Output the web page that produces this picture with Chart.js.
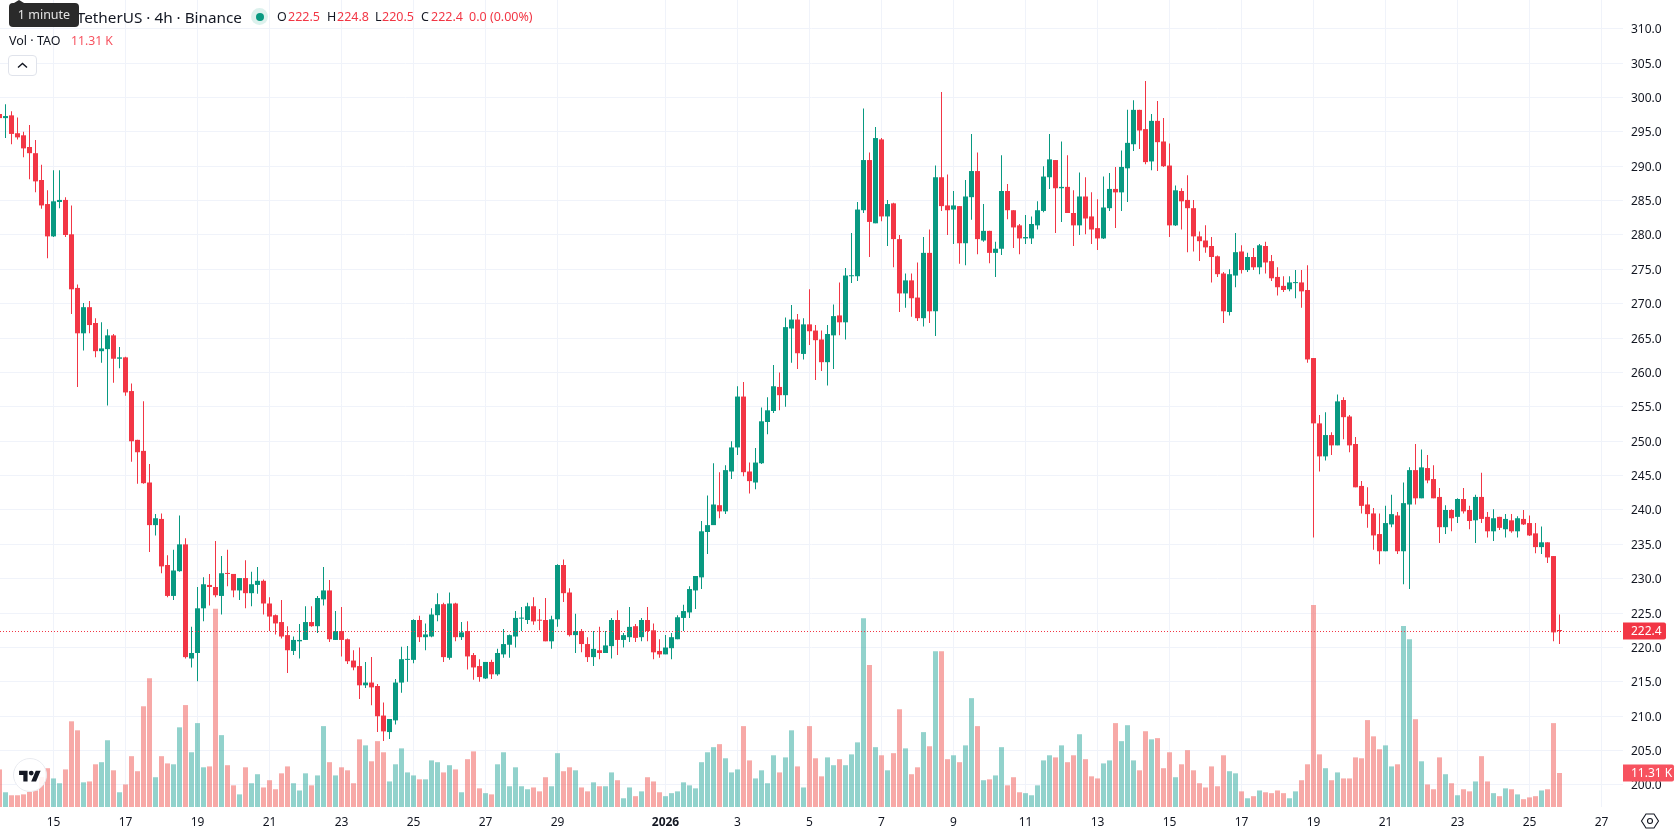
<!DOCTYPE html>
<html lang="en">
<head>
<meta charset="UTF-8">
<title>TAO / TetherUS 4h</title>
<script src="https://cdn.jsdelivr.net/npm/chart.js"></script>
<style>
  * { box-sizing: border-box; }
  html, body { margin: 0; padding: 0; width: 1678px; height: 835px; overflow: hidden; background: #fff; }
  body { font-family: 'Noto Sans', sans-serif; color: #131722; position: relative; }
  canvas { position: absolute; left: 0; top: 0; }
  .t { position: absolute; white-space: nowrap; line-height: 18px; }
  .ohlc { font-size: 12.5px; top: 8px; }
  .red { color: #f23645; }
  .title { left: 0; width: 242px; top: 6px; font-size: 15.3px; line-height: 22px; text-align: right; }
  .dot { position: absolute; left: 251px; top: 8px; width: 17px; height: 17px; border-radius: 50%; background: #dcf1ed; }
  .dot::after { content: ''; position: absolute; left: 4.5px; top: 4.5px; width: 8px; height: 8px; border-radius: 50%; background: #089981; }
  .hint { position: absolute; left: 9px; top: 3px; width: 70px; height: 24px; background: #2a2a2a; border-radius: 4px; color: #e4e4e4; font-size: 12.5px; line-height: 24px; text-align: center; }
  .hint::before { content: ''; position: absolute; left: 5px; top: -3px; border-left: 5px solid transparent; border-right: 5px solid transparent; border-bottom: 3px solid #2a2a2a; }
  .fold { position: absolute; left: 8px; top: 55px; width: 29px; height: 21px; border: 1px solid #e0e3eb; border-radius: 4px; background: #fff; }
  .logo { position: absolute; left: 13px; top: 758px; width: 34px; height: 34px; border-radius: 50%; background: rgba(255,255,255,.9); border: 1px solid #e9ebf0; }
  .gear { position: absolute; left: 1640px; top: 811px; }
</style>
</head>
<body>
<canvas id="chart" width="1678" height="835"></canvas>

<div class="t title">TetherUS · 4h · Binance</div>
<div class="hint">1 minute</div>
<div class="dot"></div>
<div class="t ohlc" style="left:277px">O</div><div class="t ohlc red" style="left:288px">222.5</div>
<div class="t ohlc" style="left:327px">H</div><div class="t ohlc red" style="left:337px">224.8</div>
<div class="t ohlc" style="left:375px">L</div><div class="t ohlc red" style="left:382px">220.5</div>
<div class="t ohlc" style="left:421px">C</div><div class="t ohlc red" style="left:431px">222.4</div>
<div class="t ohlc red" style="left:469px">0.0 (0.00%)</div>
<div class="t" style="left:9px;top:32px;font-size:12.5px">Vol · TAO</div>
<div class="t" style="left:71px;top:32px;font-size:12.2px;color:#f7525f">11.31 K</div>
<div class="fold">
  <svg width="27" height="19" viewBox="0 0 27 19"><path d="M9 11.5l4.5-4 4.5 4" fill="none" stroke="#131722" stroke-width="1.4"/></svg>
</div>
<div class="logo">
  <svg style="position:absolute;left:5px;top:8px" width="22" height="17" viewBox="0 0 36 28" fill="#131722"><path d="M14 6H0v7h7v11h7V6zM28 24h-8l7.5-18h8L28 24z"/><circle cx="20" cy="10" r="4"/></svg>
</div>
<svg class="gear" width="20" height="20" viewBox="0 0 20 20" fill="none" stroke="#131722" stroke-width="1.1">
  <path d="M6 3h8l4.5 7-4.5 7H6l-4.5-7z"/><circle cx="10" cy="10" r="2.5"/>
</svg>

<script>
// OHLC of each 4h candle, oldest first; the first candle sits one slot before bar 0
const FIRST_BAR = -1;

const opens = [
  297.6,297.0,297.4,294.8,294.5,292.8,291.9,288.0,284.5,279.8,
  284.8,285.1,280.1,272.3,265.7,269.5,267.2,263.1,263.4,265.4,
  262.0,262.2,257.3,250.2,248.6,244.0,237.8,238.7,232.0,227.5,
  231.1,235.0,218.4,219.2,225.7,229.1,228.8,227.5,230.8,230.7,
  228.3,230.1,227.9,229.1,229.7,226.4,224.7,223.7,221.8,219.5,
  220.9,221.1,223.7,223.1,227.0,228.3,221.1,222.4,221.2,218.1,
  217.3,214.5,214.9,214.4,210.1,207.7,209.4,214.9,218.2,218.2,
  224.0,221.5,221.6,224.7,226.3,218.5,226.4,221.5,222.4,218.9,
  217.3,215.5,217.9,216.1,219.0,220.4,221.6,224.2,224.0,226.0,
  224.0,224.0,220.9,224.1,232.0,228.0,221.8,222.4,220.5,218.6,
  219.6,219.2,220.2,224.0,221.1,221.5,223.1,221.5,224.0,222.5,
  219.5,219.0,219.9,221.2,224.3,225.1,228.3,230.2,236.8,237.8,
  240.7,239.8,245.6,249.1,256.5,245.6,244.0,246.8,252.8,254.4,
  257.9,256.7,266.4,267.7,262.7,267.0,266.1,264.8,261.5,265.4,
  268.3,267.3,274.0,274.0,283.6,290.9,281.7,293.9,282.7,284.6,
  279.4,271.5,273.4,270.9,267.9,277.4,268.9,288.4,284.3,283.7,
  284.2,278.8,285.5,289.3,279.2,280.6,277.4,278.0,286.4,283.6,
  281.4,279.5,279.5,281.4,283.5,288.4,290.9,286.8,287.0,283.2,
  281.4,285.6,282.7,281.0,279.5,283.9,286.7,286.2,289.7,293.2,
  298.2,295.4,290.7,296.6,293.6,290.1,281.4,286.4,285.1,283.9,
  279.8,279.2,278.4,276.9,274.4,268.8,274.1,277.6,274.9,276.8,
  275.3,278.4,276.2,273.9,272.6,272.1,273.0,273.1,272.0,262.1,
  252.6,247.8,250.9,249.4,256.0,253.6,249.6,243.5,240.8,239.5,
  236.5,234.0,237.9,239.2,234.0,240.8,245.8,241.7,246.1,244.5,
  241.9,237.5,240.0,239.0,241.6,240.0,238.5,241.9,239.0,236.9,
  239.0,237.2,238.5,236.9,238.7,238.1,236.6,234.6,235.3,233.3,
  222.5
];

const highs = [
  298.0,299.0,298.0,297.1,295.0,296.0,293.8,290.2,286.5,289.4,
  289.4,285.5,284.3,272.8,270.1,270.4,267.9,267.3,266.3,265.6,
  263.7,262.3,258.4,250.2,255.8,246.7,239.4,239.5,233.4,234.2,
  239.2,235.9,223.0,228.8,230.2,230.7,235.5,233.3,234.2,230.7,
  230.1,232.7,231.0,231.7,229.9,227.3,224.8,226.9,223.1,221.6,
  223.4,226.0,226.0,227.5,231.7,229.8,225.3,225.9,221.3,219.6,
  220.0,217.9,218.6,214.7,212.0,209.6,215.4,220.1,220.2,224.1,
  224.6,223.5,225.7,227.9,226.5,228.0,226.5,223.7,223.8,219.2,
  218.3,217.9,218.2,219.8,222.7,221.9,225.3,225.9,226.5,227.3,
  225.6,227.2,224.6,232.1,232.8,228.6,224.9,222.7,221.5,222.4,
  223.0,222.4,224.3,225.4,222.1,225.9,223.4,224.3,225.9,223.5,
  221.2,221.8,222.1,224.7,226.2,228.9,230.4,238.4,242.1,246.8,
  245.5,246.5,250.0,258.0,258.6,246.9,249.0,254.9,256.4,261.1,
  260.0,268.0,269.8,268.5,267.9,272.1,266.9,266.1,266.9,269.9,
  273.1,275.2,280.3,284.8,298.4,292.0,295.7,294.1,285.1,284.7,
  280.0,274.4,274.4,276.0,279.7,280.8,290.1,300.8,288.8,286.4,
  284.2,288.0,294.7,292.0,284.5,280.6,279.0,291.6,287.4,283.6,
  281.6,282.9,282.7,284.9,290.0,294.7,290.9,293.6,291.6,286.5,
  289.1,288.4,286.2,285.2,288.5,289.0,289.9,292.3,298.2,299.6,
  298.2,302.4,297.6,299.5,297.0,293.3,287.2,286.8,288.7,285.1,
  280.5,281.4,279.7,277.0,274.6,275.0,280.3,278.5,277.4,278.1,
  278.7,279.0,277.1,275.3,274.0,274.0,274.9,274.9,275.6,262.1,
  253.8,254.2,251.3,256.8,256.4,253.8,250.6,244.2,243.3,240.3,
  239.5,240.6,242.2,239.7,244.0,246.2,249.6,248.8,248.0,246.5,
  243.2,240.7,240.1,241.7,243.2,240.6,242.2,245.4,239.7,240.1,
  239.0,239.4,239.4,239.1,240.0,239.2,238.1,237.6,235.3,233.3,
  224.8
];

const lows = [
  296.8,294.1,293.2,293.9,291.3,288.1,286.2,283.8,276.6,279.7,
  283.9,279.7,268.5,257.9,263.2,265.7,262.2,261.4,255.2,258.5,
  260.6,256.6,247.0,243.8,243.8,233.9,236.3,230.8,227.3,226.9,
  231.0,218.4,217.1,215.1,223.8,226.1,227.3,224.8,228.9,227.3,
  226.9,225.7,226.0,227.8,224.8,222.4,221.9,221.3,216.3,218.9,
  218.4,221.1,223.0,222.1,226.1,220.8,221.1,218.7,217.6,216.7,
  212.5,214.1,211.6,207.7,206.4,206.7,208.8,213.4,215.0,217.7,
  220.8,219.6,221.5,223.8,217.9,218.2,220.9,221.1,216.8,215.3,
  215.0,215.4,215.4,215.9,218.5,218.5,220.0,222.4,223.4,223.3,
  222.5,220.9,219.8,223.0,226.6,221.6,219.2,219.3,217.9,217.3,
  218.3,219.2,218.4,218.9,220.0,220.8,220.8,220.9,220.9,218.3,
  218.5,219.0,218.3,221.2,222.4,224.3,225.6,228.5,233.6,237.8,
  238.8,239.4,244.5,248.0,244.9,242.4,243.0,246.7,251.0,254.1,
  254.5,255.0,261.4,260.5,261.9,264.0,258.9,260.2,258.1,260.5,
  265.4,264.8,273.0,273.3,283.2,276.8,281.7,282.0,278.4,275.3,
  268.8,269.4,268.1,267.5,266.7,267.2,265.3,283.5,280.0,278.7,
  275.8,275.6,282.2,277.2,279.0,275.9,273.9,277.1,282.3,278.1,
  277.2,278.7,278.7,280.8,283.3,286.7,280.3,281.9,283.2,278.4,
  280.0,280.1,278.7,277.8,279.4,283.5,281.0,283.5,284.8,292.2,
  292.5,290.3,289.4,289.3,289.9,279.7,281.3,280.8,277.5,277.6,
  276.2,277.4,273.1,273.9,267.2,268.3,272.4,274.4,274.6,274.9,
  274.3,274.4,273.3,271.2,271.7,271.8,270.8,269.4,261.4,236.0,
  245.6,247.2,248.0,249.4,250.3,248.4,243.3,239.5,237.4,234.2,
  232.1,234.0,237.5,233.6,229.2,228.5,240.8,241.7,243.9,241.7,
  235.2,236.5,236.9,238.1,239.5,237.2,235.2,238.1,236.0,235.5,
  237.1,236.0,236.7,236.0,237.8,236.2,233.7,233.6,232.3,220.9,
  220.5
];

const closes = [
  297.0,297.3,294.7,294.2,292.6,291.9,287.8,284.3,279.8,284.9,
  285.1,280.0,272.1,265.7,269.5,266.9,263.1,263.5,265.4,262.0,
  262.2,257.1,250.0,248.4,243.9,237.8,238.8,231.8,227.5,231.2,
  235.0,218.6,219.2,225.7,229.2,228.8,227.6,230.8,230.7,228.3,
  230.1,227.9,229.2,229.7,226.4,224.5,223.5,221.6,219.6,221.1,
  221.1,223.7,223.1,227.2,228.3,221.2,222.4,221.1,218.0,217.1,
  214.5,214.9,214.2,210.0,207.8,209.6,214.9,218.3,218.3,224.0,
  221.5,221.9,224.8,226.3,218.6,226.4,221.5,222.2,218.7,217.1,
  215.7,217.9,216.1,219.2,220.5,221.8,224.3,224.3,226.0,223.8,
  223.9,220.9,224.1,232.0,227.9,221.8,222.4,220.5,218.6,219.8,
  219.2,220.3,224.0,221.1,221.8,223.0,221.4,224.0,222.4,219.3,
  219.0,220.0,221.5,224.4,225.3,228.5,230.4,236.9,237.8,240.8,
  239.8,245.8,249.1,256.5,245.5,244.2,246.9,252.9,254.5,258.0,
  256.7,266.6,267.7,262.8,267.0,266.0,264.7,261.5,265.6,268.2,
  267.3,274.1,274.1,283.7,290.9,281.9,294.1,282.7,284.5,279.4,
  271.5,273.4,270.8,267.9,277.4,268.9,288.4,284.2,283.6,284.3,
  278.8,285.6,289.3,279.4,280.6,277.4,278.0,286.4,283.6,281.1,
  279.5,279.7,281.6,283.6,288.5,291.0,286.8,287.0,283.2,281.4,
  285.6,282.4,280.8,279.5,284.0,286.7,286.2,289.9,293.4,298.2,
  295.2,290.6,296.6,293.5,290.0,281.4,286.5,284.9,283.9,279.8,
  279.1,278.2,276.8,274.3,268.9,274.3,277.5,274.9,276.8,275.3,
  278.5,276.0,273.7,272.4,272.0,273.1,273.1,271.8,261.9,252.6,
  247.8,250.9,249.4,255.8,253.5,249.4,243.3,240.6,239.4,236.3,
  234.0,238.1,239.4,234.0,241.0,245.8,241.7,246.2,244.3,241.7,
  237.5,240.0,238.8,241.6,239.8,238.4,241.9,238.7,236.9,238.8,
  237.4,238.7,236.9,238.8,237.9,236.3,234.6,235.3,233.1,222.2,
  222.4
];

// Volume in thousands of TAO
const volumes = [
  12.5,4.9,3.9,3.9,4.2,5.0,5.5,10.0,12.9,9.5,
  7.9,12.5,28.5,25.5,8.2,8.5,14.2,14.9,22.2,12.2,
  4.9,7.5,16.9,11.9,33.5,42.8,9.9,16.9,14.5,14.2,
  26.5,33.9,18.2,27.9,13.2,13.5,65.9,23.9,13.9,7.2,
  4.2,13.2,7.9,10.9,6.5,8.9,5.9,11.2,13.5,7.9,
  5.5,11.2,7.2,10.5,26.9,14.9,10.5,13.2,12.2,7.9,
  22.5,20.5,15.2,21.9,18.2,8.5,14.2,19.5,11.5,10.5,
  9.2,9.2,15.5,14.9,11.5,13.9,12.5,4.9,15.9,18.5,
  6.2,4.6,4.2,14.2,18.2,6.9,13.2,6.9,5.9,6.5,
  5.2,9.9,6.9,17.9,11.9,13.2,12.2,6.5,5.2,8.2,
  6.9,6.9,11.5,8.9,2.9,6.5,3.6,5.2,9.9,8.5,
  4.9,3.6,4.6,5.2,8.2,7.2,6.2,14.9,18.2,19.9,
  20.9,16.2,11.5,12.5,26.9,15.5,9.5,12.2,7.9,17.2,
  11.5,16.5,25.5,13.5,6.5,26.9,16.2,10.2,16.5,13.9,
  15.9,13.9,17.5,21.5,62.8,47.2,19.9,17.2,12.2,17.9,
  32.5,19.5,10.9,13.2,24.9,20.2,51.8,51.8,15.9,17.2,
  14.9,20.5,36.2,26.9,8.9,9.2,10.5,19.9,7.2,9.9,
  4.9,4.6,3.9,7.2,15.5,17.2,16.5,20.5,14.9,17.2,
  24.2,15.9,10.2,9.5,14.5,15.5,27.9,21.9,27.2,15.5,
  12.2,25.2,22.5,22.9,12.9,18.2,9.9,14.2,18.9,12.2,
  7.9,6.5,13.5,6.9,17.2,11.9,11.2,5.2,2.9,3.6,
  5.5,4.9,4.6,5.5,4.6,2.9,5.2,8.9,14.2,67.2,
  17.5,12.9,8.9,11.5,9.5,9.5,16.5,16.2,28.9,23.5,
  19.2,20.5,13.5,14.2,60.2,55.8,29.2,15.2,7.5,5.9,
  16.5,10.9,7.9,3.9,5.9,5.2,8.5,16.9,8.5,4.6,
  3.6,6.2,5.9,4.2,2.6,3.2,3.6,5.5,5.9,27.9,
  11.31
];

// Time axis: bar index of each labelled day
const tickBars = [8, 20, 32, 44, 56, 68, 80, 92, 110, 122, 134, 146, 158, 170, 182, 194, 206, 218, 230, 242, 254, 266];
const tickLabels = ['15', '17', '19', '21', '23', '25', '27', '29', '2026', '3', '5', '7', '9', '11', '13', '15', '17', '19', '21', '23', '25', '27'];

const priceTicks = [200, 205, 210, 215, 220, 225, 230, 235, 240, 245, 250, 255, 260, 265, 270, 275, 280, 285, 290, 295, 300, 305, 310];

const lastClose = 222.4;
const lastVolume = 11.31;

const UP = '#089981';
const DOWN = '#f23645';
const VOL_UP = 'rgba(38,166,154,0.5)';
const VOL_DOWN = 'rgba(239,83,80,0.5)';
const GRID = '#f0f3fa';
const TEXT = '#131722';
const FONT = "'Noto Sans', sans-serif";

const isUp = closes.map((c, i) => c >= opens[i]);
const candleColors = isUp.map(u => (u ? UP : DOWN));
const volumeColors = isUp.map(u => (u ? VOL_UP : VOL_DOWN));

/**
 * Dotted line at the last price and the two value tags on the price axis
 */
const lastValuePlugin = {
  id: 'lastValue',
  afterDatasetsDraw(chart) {
    const { ctx, chartArea, scales } = chart;
    const y = Math.round(scales.y.getPixelForValue(lastClose)) + 0.5;
    ctx.save();
    ctx.strokeStyle = DOWN;
    ctx.lineWidth = 1;
    ctx.setLineDash([1, 2]);
    ctx.beginPath();
    ctx.moveTo(chartArea.left, y);
    ctx.lineTo(chartArea.right, y);
    ctx.stroke();
    ctx.restore();
  },
  afterDraw(chart) {
    const { ctx, chartArea, scales } = chart;
    const tag = (text, y, width, color) => {
      ctx.fillStyle = color;
      ctx.beginPath();
      ctx.roundRect(chartArea.right, Math.round(y) - 8.5, width, 17, [0, 2, 2, 0]);
      ctx.fill();
      ctx.fillStyle = '#fff';
      ctx.font = `12px ${FONT}`;
      ctx.textAlign = 'left';
      ctx.textBaseline = 'middle';
      ctx.fillText(text, chartArea.right + 8, Math.round(y) + 1);
    };
    ctx.save();
    tag(lastClose.toFixed(1), scales.y.getPixelForValue(lastClose), 43, DOWN);
    tag(`${lastVolume.toFixed(2)} K`, scales.vol.getPixelForValue(lastVolume), 51, '#f7525f');
    ctx.restore();
  },
};

new Chart(document.getElementById('chart'), {
  type: 'bar',
  data: {
    datasets: [
      {
        label: 'Body',
        order: 1,
        data: opens.map((o, i) => ({ x: i + FIRST_BAR, y: [o, closes[i]] })),
        backgroundColor: candleColors,
        barThickness: 5,
        minBarLength: 1,
        inflateAmount: 0,
        grouped: false,
        yAxisID: 'y',
      },
      {
        label: 'Wick',
        order: 2,
        data: highs.map((h, i) => ({ x: i + FIRST_BAR, y: [lows[i], h] })),
        backgroundColor: candleColors,
        barThickness: 1,
        inflateAmount: 0,
        grouped: false,
        yAxisID: 'y',
      },
      {
        label: 'Volume',
        order: 3,
        data: volumes.map((v, i) => ({ x: i + FIRST_BAR, y: v })),
        backgroundColor: volumeColors,
        barThickness: 5,
        inflateAmount: 0,
        grouped: false,
        yAxisID: 'vol',
      },
    ],
  },
  options: {
    responsive: false,
    animation: false,
    events: [],
    layout: { padding: 0 },
    plugins: { legend: { display: false }, tooltip: { enabled: false } },
    scales: {
      x: {
        type: 'linear',
        offset: false,
        min: -0.9167,
        max: 269.5833,
        grid: { color: GRID, offset: false, drawTicks: false },
        border: { display: false },
        afterBuildTicks(scale) {
          scale.ticks = tickBars.map(value => ({ value }));
        },
        afterFit(scale) {
          scale.height = 28;
          scale.paddingLeft = 0;
          scale.paddingRight = 0;
        },
        ticks: {
          autoSkip: false,
          maxRotation: 0,
          padding: 8,
          color: TEXT,
          font: ctx => ({ family: FONT, size: 12, weight: ctx.tick && ctx.tick.value === 110 ? 'bold' : 'normal' }),
          callback: value => tickLabels[tickBars.indexOf(value)],
        },
      },
      y: {
        position: 'right',
        min: 196.8,
        max: 314.18,
        grid: { color: GRID, drawTicks: false },
        border: { display: false },
        afterBuildTicks(scale) {
          scale.ticks = priceTicks.map(value => ({ value }));
        },
        afterFit(scale) {
          scale.width = 55;
          scale.paddingTop = 0;
          scale.paddingBottom = 0;
        },
        ticks: {
          padding: 8,
          labelOffset: 1,
          color: TEXT,
          font: { family: FONT, size: 12 },
          callback: value => value.toFixed(1),
        },
      },
      vol: {
        display: false,
        position: 'right',
        min: 0,
        max: 268.4,
      },
    },
  },
  plugins: [lastValuePlugin],
});
</script>
</body>
</html>
